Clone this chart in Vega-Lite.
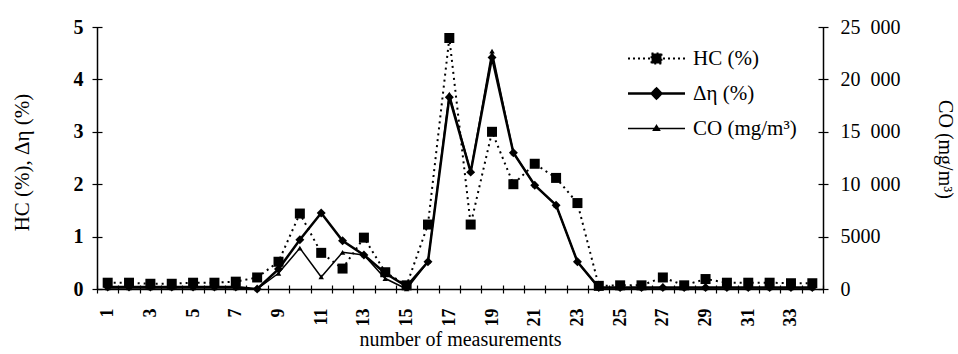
{
  "$schema": "https://vega.github.io/schema/vega-lite/v6.json",
  "width": 726,
  "height": 262,
  "autosize": "none",
  "padding": {"left": 97, "top": 27, "right": 135, "bottom": 65},
  "background": "white",
  "config": {
    "view": {"stroke": null},
    "font": "Liberation Serif",
    "axis": {
      "grid": false,
      "domainColor": "black",
      "tickColor": "black",
      "labelColor": "black",
      "titleColor": "black",
      "labelFont": "Liberation Serif",
      "titleFont": "Liberation Serif",
      "titleFontWeight": "normal",
      "domainWidth": 1.5,
      "tickWidth": 1.2
    }
  },
  "datasets": {
    "hc": [
      {"n": 1, "series": "HC (%)", "value": 0.12}, {"n": 2, "series": "HC (%)", "value": 0.12},
      {"n": 3, "series": "HC (%)", "value": 0.1}, {"n": 4, "series": "HC (%)", "value": 0.1},
      {"n": 5, "series": "HC (%)", "value": 0.12}, {"n": 6, "series": "HC (%)", "value": 0.12},
      {"n": 7, "series": "HC (%)", "value": 0.14}, {"n": 8, "series": "HC (%)", "value": 0.22},
      {"n": 9, "series": "HC (%)", "value": 0.52}, {"n": 10, "series": "HC (%)", "value": 1.44},
      {"n": 11, "series": "HC (%)", "value": 0.69}, {"n": 12, "series": "HC (%)", "value": 0.39},
      {"n": 13, "series": "HC (%)", "value": 0.98}, {"n": 14, "series": "HC (%)", "value": 0.32},
      {"n": 15, "series": "HC (%)", "value": 0.07}, {"n": 16, "series": "HC (%)", "value": 1.23},
      {"n": 17, "series": "HC (%)", "value": 4.79}, {"n": 18, "series": "HC (%)", "value": 1.23},
      {"n": 19, "series": "HC (%)", "value": 3.0}, {"n": 20, "series": "HC (%)", "value": 2.0},
      {"n": 21, "series": "HC (%)", "value": 2.39}, {"n": 22, "series": "HC (%)", "value": 2.12},
      {"n": 23, "series": "HC (%)", "value": 1.64}, {"n": 24, "series": "HC (%)", "value": 0.06},
      {"n": 25, "series": "HC (%)", "value": 0.07}, {"n": 26, "series": "HC (%)", "value": 0.07},
      {"n": 27, "series": "HC (%)", "value": 0.22}, {"n": 28, "series": "HC (%)", "value": 0.07},
      {"n": 29, "series": "HC (%)", "value": 0.19}, {"n": 30, "series": "HC (%)", "value": 0.12},
      {"n": 31, "series": "HC (%)", "value": 0.12}, {"n": 32, "series": "HC (%)", "value": 0.12},
      {"n": 33, "series": "HC (%)", "value": 0.11}, {"n": 34, "series": "HC (%)", "value": 0.11}
    ],
    "eta": [
      {"n": 1, "series": "Δη (%)", "value": 0.04}, {"n": 2, "series": "Δη (%)", "value": 0.04},
      {"n": 3, "series": "Δη (%)", "value": 0.04}, {"n": 4, "series": "Δη (%)", "value": 0.04},
      {"n": 5, "series": "Δη (%)", "value": 0.04}, {"n": 6, "series": "Δη (%)", "value": 0.04},
      {"n": 7, "series": "Δη (%)", "value": 0.04}, {"n": 8, "series": "Δη (%)", "value": 0.0},
      {"n": 9, "series": "Δη (%)", "value": 0.38}, {"n": 10, "series": "Δη (%)", "value": 0.94},
      {"n": 11, "series": "Δη (%)", "value": 1.45}, {"n": 12, "series": "Δη (%)", "value": 0.92},
      {"n": 13, "series": "Δη (%)", "value": 0.65}, {"n": 14, "series": "Δη (%)", "value": 0.3},
      {"n": 15, "series": "Δη (%)", "value": 0.05}, {"n": 16, "series": "Δη (%)", "value": 0.52},
      {"n": 17, "series": "Δη (%)", "value": 3.66}, {"n": 18, "series": "Δη (%)", "value": 2.23},
      {"n": 19, "series": "Δη (%)", "value": 4.42}, {"n": 20, "series": "Δη (%)", "value": 2.6},
      {"n": 21, "series": "Δη (%)", "value": 1.98}, {"n": 22, "series": "Δη (%)", "value": 1.6},
      {"n": 23, "series": "Δη (%)", "value": 0.52}, {"n": 24, "series": "Δη (%)", "value": 0.03},
      {"n": 25, "series": "Δη (%)", "value": 0.03}, {"n": 26, "series": "Δη (%)", "value": 0.03},
      {"n": 27, "series": "Δη (%)", "value": 0.03}, {"n": 28, "series": "Δη (%)", "value": 0.03},
      {"n": 29, "series": "Δη (%)", "value": 0.03}, {"n": 30, "series": "Δη (%)", "value": 0.03},
      {"n": 31, "series": "Δη (%)", "value": 0.03}, {"n": 32, "series": "Δη (%)", "value": 0.03},
      {"n": 33, "series": "Δη (%)", "value": 0.03}, {"n": 34, "series": "Δη (%)", "value": 0.03}
    ],
    "co": [
      {"n": 1, "series": "CO (mg/m³)", "value": 100}, {"n": 2, "series": "CO (mg/m³)", "value": 100},
      {"n": 3, "series": "CO (mg/m³)", "value": 100}, {"n": 4, "series": "CO (mg/m³)", "value": 100},
      {"n": 5, "series": "CO (mg/m³)", "value": 100}, {"n": 6, "series": "CO (mg/m³)", "value": 100},
      {"n": 7, "series": "CO (mg/m³)", "value": 100}, {"n": 8, "series": "CO (mg/m³)", "value": 0},
      {"n": 9, "series": "CO (mg/m³)", "value": 1500}, {"n": 10, "series": "CO (mg/m³)", "value": 3900},
      {"n": 11, "series": "CO (mg/m³)", "value": 1150}, {"n": 12, "series": "CO (mg/m³)", "value": 3500},
      {"n": 13, "series": "CO (mg/m³)", "value": 3250}, {"n": 14, "series": "CO (mg/m³)", "value": 1000},
      {"n": 15, "series": "CO (mg/m³)", "value": 0}, {"n": 16, "series": "CO (mg/m³)", "value": 2600},
      {"n": 17, "series": "CO (mg/m³)", "value": 18600}, {"n": 18, "series": "CO (mg/m³)", "value": 11200},
      {"n": 19, "series": "CO (mg/m³)", "value": 22700}, {"n": 20, "series": "CO (mg/m³)", "value": 13000},
      {"n": 21, "series": "CO (mg/m³)", "value": 9900}, {"n": 22, "series": "CO (mg/m³)", "value": 8000},
      {"n": 23, "series": "CO (mg/m³)", "value": 2600}, {"n": 24, "series": "CO (mg/m³)", "value": 100},
      {"n": 25, "series": "CO (mg/m³)", "value": 100}, {"n": 26, "series": "CO (mg/m³)", "value": 100},
      {"n": 27, "series": "CO (mg/m³)", "value": 100}, {"n": 28, "series": "CO (mg/m³)", "value": 100},
      {"n": 29, "series": "CO (mg/m³)", "value": 100}, {"n": 30, "series": "CO (mg/m³)", "value": 100},
      {"n": 31, "series": "CO (mg/m³)", "value": 100}, {"n": 32, "series": "CO (mg/m³)", "value": 100},
      {"n": 33, "series": "CO (mg/m³)", "value": 100}, {"n": 34, "series": "CO (mg/m³)", "value": 100}
    ]
  },
  "layer": [
    {
      "encoding": {
        "x": {
          "field": "n", "type": "ordinal", "bandPosition": 0.5,
          "scale": {"type": "band", "paddingInner": 0, "paddingOuter": 0},
          "axis": {
            "title": "number of measurements", "titleFontSize": 20, "titlePadding": 3,
            "labelAngle": -90, "labelFontSize": 18, "labelFontWeight": "bold",
            "labelExpr": "datum.value % 2 === 1 ? datum.label : ''",
            "tickBand": "extent", "tickSize": 4, "labelPadding": 15,
            "encoding": {"ticks": {"y": {"value": -4}}}
          }
        },
        "y": {
          "field": "value", "type": "quantitative",
          "scale": {"domain": [0, 5], "nice": false},
          "axis": {
            "title": "HC (%), Δη (%)", "titleFontSize": 21, "titleX": -65, "titleY": 135,
            "values": [0, 1, 2, 3, 4, 5], "labelFontSize": 20, "labelFontWeight": "bold",
            "tickSize": 5, "labelPadding": 9,
            "encoding": {"ticks": {"x": {"value": 5}}}
          }
        }
      },
      "layer": [
        {"data": {"name": "hc"}, "mark": {"type": "line", "color": "black", "strokeWidth": 2, "strokeDash": [2, 4]}},
        {
          "data": {"name": "hc"},
          "mark": {"type": "point", "filled": true, "opacity": 1, "size": 100, "shape": "square"},
          "encoding": {
            "color": {
              "field": "series", "type": "nominal",
              "scale": {"domain": ["HC (%)", "Δη (%)", "CO (mg/m³)"], "range": ["black", "black", "black"]},
              "legend": {
                "title": null, "orient": "none", "legendX": 549, "legendY": 21,
                "symbolSize": 900, "labelFontSize": 21, "labelFont": "Liberation Serif", "labelColor": "black",
                "rowPadding": 13, "labelOffset": 26,
                "encoding": {
                  "symbols": {
                    "shape": {"value": {"expr": "datum.value === 'HC (%)' ? 'M-1.9,0H1.9M-0.33,-0.33H0.33V0.33H-0.33Z' : datum.value === 'CO (mg/m³)' ? 'M-1.9,0H1.9M-0.2,0.12L0,-0.2L0.2,0.12Z' : 'M-1.9,0H1.9M0,-0.33L0.33,0L0,0.33L-0.33,0Z'"}},
                    "stroke": {"value": "black"},
                    "fill": {"value": "black"},
                    "opacity": {"value": 1},
                    "strokeWidth": {"value": {"expr": "datum.value === 'Δη (%)' ? 2.5 : datum.value === 'HC (%)' ? 2 : 1.5"}},
                    "strokeDash": {"value": {"expr": "datum.value === 'HC (%)' ? [2, 3] : [1, 0]"}}
                  }
                }
              }
            }
          }
        },
        {"data": {"name": "eta"}, "mark": {"type": "line", "color": "black", "strokeWidth": 2.5}},
        {"data": {"name": "eta"}, "mark": {"type": "point", "filled": true, "color": "black", "opacity": 1, "size": 80, "shape": "diamond"}}
      ]
    },
    {
      "encoding": {
        "x": {
          "field": "n", "type": "ordinal", "bandPosition": 0.5,
          "scale": {"type": "band", "paddingInner": 0, "paddingOuter": 0}
        },
        "y": {
          "field": "value", "type": "quantitative",
          "scale": {"domain": [0, 25000], "nice": false},
          "axis": {
            "orient": "right", "title": "CO (mg/m³)", "titleFontSize": 20, "titleX": 111, "titleY": 122,
            "values": [0, 5000, 10000, 15000, 20000, 25000],
            "labelExpr": "datum.value >= 10000 ? replace(format(datum.value, ','), ',', '\u2002') : format(datum.value, 'd')",
            "labelFontSize": 20, "tickSize": 5, "labelPadding": 12,
            "encoding": {"ticks": {"x": {"value": -5}}}
          }
        }
      },
      "layer": [
        {"data": {"name": "co"}, "mark": {"type": "line", "color": "black", "strokeWidth": 1.5}},
        {"data": {"name": "co"}, "mark": {"type": "point", "filled": true, "color": "black", "opacity": 1, "size": 30, "shape": "triangle-up"}}
      ]
    }
  ],
  "resolve": {"scale": {"y": "independent"}}
}
